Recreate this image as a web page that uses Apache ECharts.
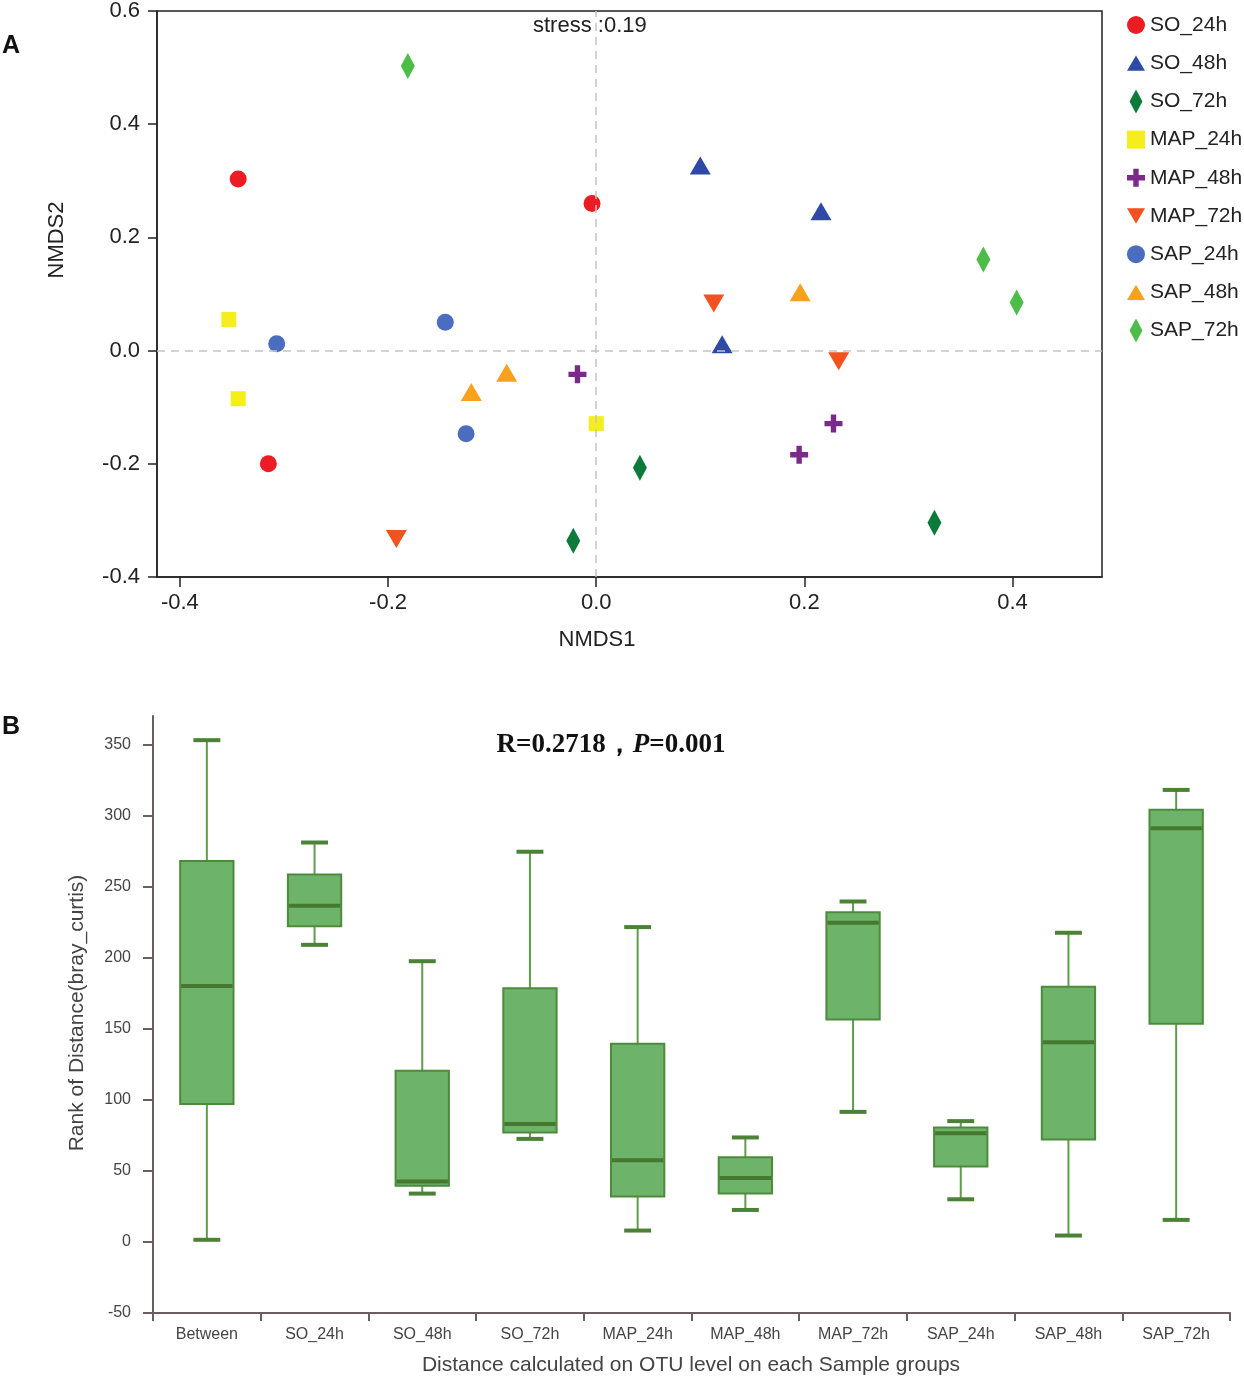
<!DOCTYPE html>
<html><head><meta charset="utf-8">
<script src="https://cdn.jsdelivr.net/npm/echarts@6/dist/echarts.min.js"></script>
<style>html,body{margin:0;padding:0;background:#fff}#c{width:1244px;height:1398px}</style>
</head><body><div id="c"></div>
<script>
// ---------- Panel A: NMDS ----------
const groupNames = ['SO_24h','SO_48h','SO_72h','MAP_24h','MAP_48h','MAP_72h','SAP_24h','SAP_48h','SAP_72h'];
const SO_24h  = [[-0.344, 0.303], [-0.004, 0.260], [-0.315, -0.200]];
const SO_48h  = [[0.100, 0.327], [0.216, 0.246], [0.121, 0.011]];
const SO_72h  = [[0.042, -0.207], [-0.022, -0.336], [0.325, -0.304]];
const MAP_24h = [[-0.353, 0.055], [-0.344, -0.085], [0.000, -0.129]];
const MAP_48h = [[-0.018, -0.042], [0.195, -0.184], [0.228, -0.129]];
const MAP_72h = [[0.113, 0.083], [0.233, -0.019], [-0.192, -0.333]];
const SAP_24h = [[-0.307, 0.012], [-0.145, 0.050], [-0.125, -0.147]];
const SAP_48h = [[0.196, 0.103], [-0.120, -0.073], [-0.086, -0.039]];
const SAP_72h = [[-0.181, 0.503], [0.372, 0.161], [0.404, 0.085]];
const nmdsXTicks = [-0.4, -0.2, 0, 0.2, 0.4];
const nmdsYTicks = [-0.4, -0.2, 0, 0.2, 0.4, 0.6];
const stressText = 'stress :0.19';

// ---------- Panel B: ANOSIM boxplot ----------
const boxCategories = ['Between','SO_24h','SO_48h','SO_72h','MAP_24h','MAP_48h','MAP_72h','SAP_24h','SAP_48h','SAP_72h'];
const boxLow    = [1.5, 209, 34, 72.5, 8, 22.5, 91.5, 30, 4.5, 15.5];
const boxQ1     = [97, 222, 39.5, 77, 32, 34, 156.5, 53, 72, 153.5];
const boxMedian = [180, 236.5, 42.5, 83, 57.5, 45, 224.5, 76.5, 140.5, 291];
const boxQ3     = [268, 258.5, 120.5, 178.5, 139.5, 59.5, 232, 80.5, 179.5, 304];
const boxHigh   = [353, 281, 197.5, 274.5, 221.5, 73.5, 239.5, 85, 217.5, 318];
const rankTicks = [-50, 0, 50, 100, 150, 200, 250, 300, 350];

const SANS = "'Liberation Sans', Arial, Helvetica, sans-serif";
const SERIF = "'Liberation Serif', 'Times New Roman', serif";

const groupData = [SO_24h, SO_48h, SO_72h, MAP_24h, MAP_48h, MAP_72h, SAP_24h, SAP_48h, SAP_72h];
const groupColors = ['#ec1c24','#2f4aa6','#0b7a3b','#f3ee1c','#7b2a8c','#f1521f','#4a6dbf','#f8a11c','#4dbd48'];
const TRI_UP = 'path://M10,0 L20,17 L0,17 Z';
const TRI_DN = 'path://M0,0 L20,0 L10,17 Z';
const DIAM = 'path://M7,0 L14,13 L7,26 L0,13 Z';
const SQR = 'path://M0,0 L10,0 L10,10 L0,10 Z';
const CROSS = 'path://M7,0 L13,0 L13,7 L20,7 L20,13 L13,13 L13,20 L7,20 L7,13 L0,13 L0,7 L7,7 Z';
const groupSymbols = ['circle', TRI_UP, DIAM, SQR, CROSS, TRI_DN, 'circle', TRI_UP, DIAM];
const groupSizes = [17, [21,18], [14,26], [15,15], [18,18], [21,18], 17, [21,18], [14,26]];

const scatterSeries = groupNames.map((n, i) => ({
  name: n, type: 'scatter', xAxisIndex: 0, yAxisIndex: 0, z: 3,
  data: groupData[i], symbol: groupSymbols[i], symbolSize: groupSizes[i],
  itemStyle: { color: groupColors[i], opacity: 1 },
  emphasis: { disabled: true }
}));

const refSeries = {
  name: '__ref', type: 'scatter', xAxisIndex: 0, yAxisIndex: 0, z: 1, data: [],
  markLine: {
    silent: true, symbol: 'none', label: { show: false },
    lineStyle: { type: [8, 6], color: '#c4c4c4', width: 1.5 },
    data: [{ xAxis: 0 }, { yAxis: 0 }]
  }
};

const boxData = boxCategories.map((c, i) => [i, boxLow[i], boxQ1[i], boxMedian[i], boxQ3[i], boxHigh[i]]);

const boxSeries = {
  name: 'rank', type: 'custom', xAxisIndex: 1, yAxisIndex: 1,
  data: boxData,
  encode: { x: 0, y: [1, 2, 3, 4, 5] },
  renderItem: function (params, api) {
    const i = api.value(0);
    const lo = api.coord([i, api.value(1)]);
    const q1 = api.coord([i, api.value(2)]);
    const md = api.coord([i, api.value(3)]);
    const q3 = api.coord([i, api.value(4)]);
    const hi = api.coord([i, api.value(5)]);
    const band = api.size([1, 0])[0];
    const bw = band * 0.495, cw = band * 0.25;
    const x = lo[0];
    const wStyle = { stroke: '#5e9d4b', lineWidth: 2 };
    const cStyle = { stroke: '#4b8236', lineWidth: 4 };
    return {
      type: 'group', children: [
        { type: 'line', shape: { x1: x, y1: hi[1], x2: x, y2: q3[1] }, style: wStyle },
        { type: 'line', shape: { x1: x, y1: q1[1], x2: x, y2: lo[1] }, style: wStyle },
        { type: 'line', shape: { x1: x - cw / 2, y1: hi[1], x2: x + cw / 2, y2: hi[1] }, style: cStyle },
        { type: 'line', shape: { x1: x - cw / 2, y1: lo[1], x2: x + cw / 2, y2: lo[1] }, style: cStyle },
        { type: 'rect', shape: { x: x - bw / 2, y: q3[1], width: bw, height: q1[1] - q3[1] },
          style: { fill: '#6db46a', stroke: '#4e8a3c', lineWidth: 2 } },
        { type: 'line', shape: { x1: x - bw / 2 + 1, y1: md[1], x2: x + bw / 2 - 1, y2: md[1] }, style: { stroke: '#46792f', lineWidth: 4 } }
      ]
    };
  }
};

const chart = echarts.init(document.getElementById('c'), null, { renderer: 'canvas' });
chart.setOption({
  animation: false,
  backgroundColor: '#fff',
  textStyle: { fontFamily: SANS },
  legend: {
    data: groupNames, orient: 'vertical', left: 1127, top: 13, padding: 0,
    itemWidth: 18, itemHeight: 24, itemGap: 14.2, selectedMode: false,
    textStyle: { fontSize: 21, color: '#222', fontFamily: SANS, lineHeight: 24 }
  },
  grid: [
    { left: 157, top: 8, width: 945, height: 569, show: true, borderColor: '#222', borderWidth: 1.5, backgroundColor: 'transparent' },
    { left: 153, top: 716, width: 1077, height: 597 }
  ],
  xAxis: [
    {
      type: 'value', gridIndex: 0, min: -0.422, max: 0.486, position: 'bottom',
      axisLine: { show: true, onZero: false, lineStyle: { color: '#222', width: 1.5 } },
      axisTick: { show: true, length: 10, customValues: nmdsXTicks, lineStyle: { color: '#222', width: 1.5 } },
      axisLabel: { customValues: nmdsXTicks, margin: 15, fontSize: 22, color: '#222', fontFamily: SANS, formatter: v => v.toFixed(1) },
      splitLine: { show: false }
    },
    {
      type: 'category', gridIndex: 1, data: boxCategories, boundaryGap: true, position: 'bottom',
      axisLine: { show: true, onZero: false, lineStyle: { color: '#6a5e5e', width: 2 } },
      axisTick: { show: true, length: 8, alignWithLabel: false, lineStyle: { color: '#6a5e5e', width: 2 } },
      axisLabel: { margin: 14, fontSize: 16, color: '#444', fontFamily: SANS, interval: 0 },
      splitLine: { show: false }
    }
  ],
  yAxis: [
    {
      type: 'value', gridIndex: 0, min: -0.4, max: 0.6,
      axisLine: { show: true, onZero: false, lineStyle: { color: '#222', width: 1.5 } },
      axisTick: { show: true, length: 9, customValues: nmdsYTicks, lineStyle: { color: '#222', width: 1.5 } },
      axisLabel: { customValues: nmdsYTicks, margin: 17, fontSize: 22, color: '#222', fontFamily: SANS, formatter: v => v.toFixed(1) },
      splitLine: { show: false }
    },
    {
      type: 'value', gridIndex: 1, min: -50, max: 370,
      axisLine: { show: true, onZero: false, lineStyle: { color: '#6a5e5e', width: 2 } },
      axisTick: { show: true, length: 10, customValues: rankTicks, lineStyle: { color: '#6a5e5e', width: 2 } },
      axisLabel: { customValues: rankTicks, margin: 22, fontSize: 16, color: '#444', fontFamily: SANS },
      splitLine: { show: false }
    }
  ],
  graphic: [
    { type: 'text', left: 2, top: 34, style: { text: 'A', font: "bold 25px " + SANS, fill: '#111' } },
    { type: 'text', left: 2, top: 715, style: { text: 'B', font: "bold 25px " + SANS, fill: '#111' } },
    { type: 'text', left: 533, top: 15, z: 10, style: { text: stressText, font: "22px " + SANS, fill: '#222' } },
    { type: 'text', x: 597, y: 640, style: { text: 'NMDS1', font: "22px " + SANS, fill: '#222', align: 'center', verticalAlign: 'middle' } },
    { type: 'text', x: 57, y: 240, rotation: Math.PI / 2, style: { text: 'NMDS2', font: "22px " + SANS, fill: '#222', align: 'center', verticalAlign: 'middle' } },
    { type: 'text', x: 77, y: 1013, rotation: Math.PI / 2, style: { text: 'Rank of Distance(bray_curtis)', font: "21px " + SANS, fill: '#444', align: 'center', verticalAlign: 'middle' } },
    { type: 'text', x: 691, y: 1365, style: { text: 'Distance calculated on OTU level on each Sample groups', font: "21px " + SANS, fill: '#444', align: 'center', verticalAlign: 'middle' } },
    { type: 'text', x: 611, y: 745, style: {
        text: '{a|R=0.2718，}{b|P}{a|=0.001}', align: 'center', verticalAlign: 'middle',
        rich: {
          a: { fontFamily: SERIF, fontWeight: 'bold', fontSize: 27, fill: '#111', color: '#111' },
          b: { fontFamily: SERIF, fontWeight: 'bold', fontStyle: 'italic', fontSize: 27, fill: '#111', color: '#111' }
        } } }
  ],
  series: [refSeries].concat(scatterSeries).concat([boxSeries])
});
</script>
</body></html>
